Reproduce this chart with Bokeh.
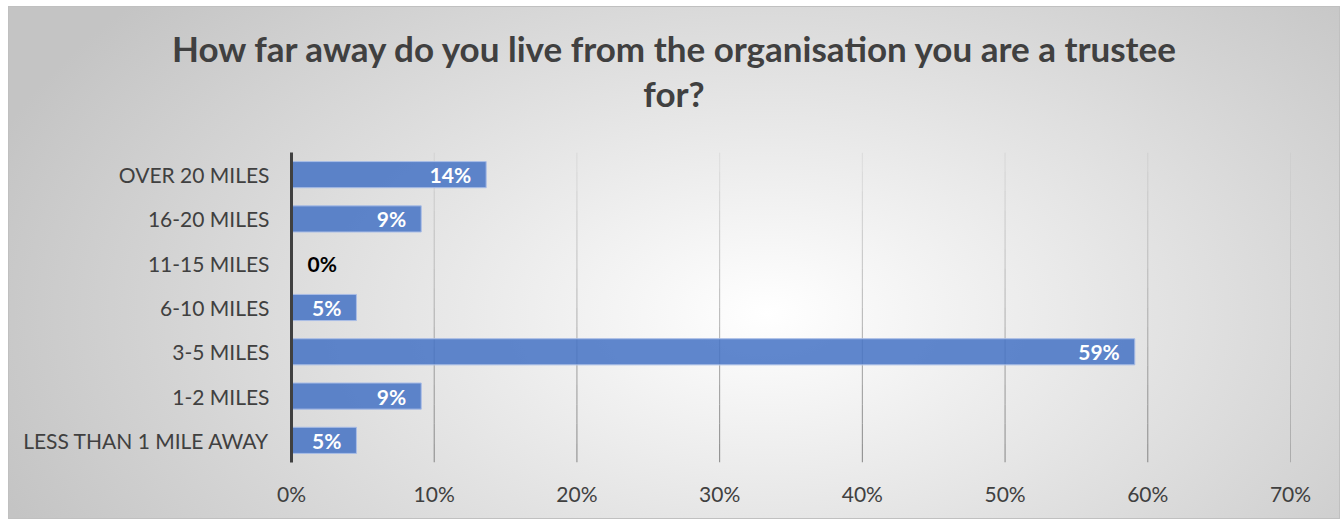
from bokeh.plotting import figure
from bokeh.layouts import column
from bokeh.models import FactorRange, Range1d, FixedTicker, NumeralTickFormatter, ColumnDataSource, Div
from bokeh.core.properties import value
from bokeh.embed import file_html
from bokeh.resources import INLINE

# ---- data (bottom to top) ----
categories = ["LESS THAN 1 MILE AWAY", "1-2 MILES", "3-5 MILES", "6-10 MILES",
              "11-15 MILES", "16-20 MILES", "OVER 20 MILES"]
shares = [0.0455, 0.0909, 0.5909, 0.0455, 0.0, 0.0909, 0.1364]
x_ticks = [0.0, 0.1, 0.2, 0.3, 0.4, 0.5, 0.6, 0.7]
title_lines = ["How far away do you live from the organisation you are a trustee", "for?"]

FONT = "Lato"
W, H = 1330, 511
TITLE_H = 112

title_html = ('<div style="padding-top:19px; line-height:45px; text-align:center; '
              f'width:{W}px;">' + "<br>".join(title_lines) + "</div>")
title = Div(text=title_html, width=W, height=TITLE_H, margin=0,
            styles={"font-family": FONT, "font-size": "35px",
                    "font-weight": "bold", "color": "#404040", "overflow": "hidden"})

p = figure(width=W, height=H - TITLE_H,
           y_range=FactorRange(*categories, range_padding=0),
           x_range=Range1d(0, 0.7),
           output_backend="svg", toolbar_location=None,
           min_border_left=282, min_border_right=49,
           min_border_top=145 - TITLE_H, min_border_bottom=56)
p.title = None
p.margin = 0
p.background_fill_alpha = 0
p.border_fill_alpha = 0
p.outline_line_color = None

# grid lines with vertical fade (drawn as stacked pieces)
p.xgrid.grid_line_color = None
p.ygrid.grid_line_color = None
n_pieces = 16
n_cat = len(categories)
gx = x_ticks[1:]
for k in range(n_pieces):
    y_top = n_cat - k * n_cat / n_pieces
    y_bot = n_cat - (k + 1) * n_cat / n_pieces
    alpha = 0.12 + 0.85 * (k + 0.5) / n_pieces
    p.segment(x0=gx, x1=gx, y0=[y_top] * len(gx), y1=[y_bot] * len(gx),
              line_color="#808080", line_alpha=alpha, line_width=1)

# bars
src = ColumnDataSource(dict(
    cat=categories,
    share=shares,
    label=[f"{round(v * 100):.0f}%" for v in shares],
    color=["#ffffff" if v > 0 else "#000000" for v in shares],
    align=["right" if v > 0 else "left" for v in shares],
    xoff=[-15 if v > 0 else 16 for v in shares],
))
p.hbar(y="cat", left=0, right="share", height=0.59, source=src,
       fill_color="#4472C4", fill_alpha=0.85, line_color="#a9bde6", line_width=1)

p.text(x="share", y="cat", text="label", source=src,
       text_color="color", text_align="align", x_offset="xoff",
       text_baseline="middle", text_font=value(FONT), text_font_size="21px",
       text_font_style="bold")

# axes
p.xaxis.ticker = FixedTicker(ticks=x_ticks)
p.xaxis.formatter = NumeralTickFormatter(format="0%")
p.xaxis.axis_line_color = None
p.xaxis.major_tick_line_color = None
p.xaxis.minor_tick_line_color = None
p.xaxis.major_label_text_font = FONT
p.xaxis.major_label_text_font_size = "21px"
p.xaxis.major_label_text_color = "#404040"
p.xaxis.major_label_standoff = 12

p.yaxis.axis_line_color = "#404040"
p.yaxis.axis_line_width = 3
p.yaxis.major_tick_line_color = None
p.yaxis.minor_tick_line_color = None
p.yaxis.major_label_text_font = FONT
p.yaxis.major_label_text_font_size = "21px"
p.yaxis.major_label_text_color = "#404040"
p.yaxis.major_label_standoff = 16

layout = column(title, p, spacing=0)
layout.margin = (6, 0, 0, 8)
layout.styles = {
    "background": "radial-gradient(ellipse 62% 95% at 57% 60%, #ffffff 0%, #f6f6f6 15%, #c4c4c4 100%)",
    "border": "1px solid #c0c0c0",
}

open("out.html", "w").write(file_html(layout, INLINE))
